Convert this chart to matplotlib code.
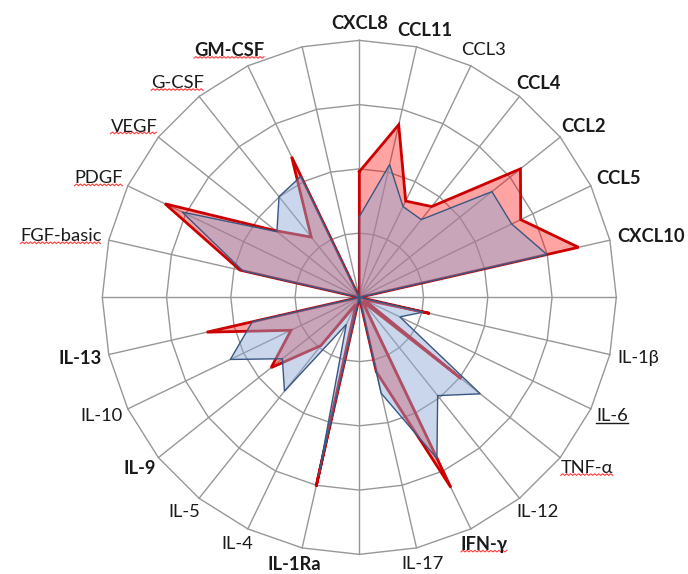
import numpy as np
import matplotlib
matplotlib.use("Agg")
import matplotlib.pyplot as plt
from matplotlib.lines import Line2D

# Spokes (blank entries are group separators)
categories = ["CXCL8", "CCL11", "CCL3", "CCL4", "CCL2", "CCL5", "CXCL10", "",
              "IL-1β", "IL-6", "TNF-α", "IL-12", "IFN-γ", "IL-17", "",
              "IL-1Ra", "IL-4", "IL-5", "IL-9", "IL-10", "IL-13", "",
              "FGF-basic", "PDGF", "VEGF", "G-CSF", "GM-CSF", ""]

bold_labels = ["CXCL8", "CCL11", "CCL4", "CCL2", "CCL5", "CXCL10",
               "IFN-γ", "IL-1Ra", "IL-9", "IL-13", "GM-CSF"]
underlined_labels = ["IL-6"]
flagged_labels = ["GM-CSF", "G-CSF", "VEGF", "PDGF", "FGF-basic", "TNF-α", "IFN-γ"]

series_red = [48.9, 68.9, 41.6, 45.2, 80.2, 69.7, 87.5, 0,
              28.1, 2.0, 50.7, 2.0, 82.2, 29.7, 0,
              75.5, 3.0, 24.0, 43.9, 29.5, 60.9, 0,
              47.6, 83.9, 41.6, 30.0, 60.7, 0]

series_blue = [31.4, 53.0, 39.2, 38.7, 66.0, 65.8, 74.9, 0,
               25.7, 17.5, 60.2, 48.9, 69.6, 38.3, 0,
               71.0, 11.7, 46.7, 38.3, 55.7, 42.7, 0,
               46.5, 76.5, 41.0, 50.1, 52.3, 0]

levels = [25, 50, 75, 100]

W, H = 688, 574
fig = plt.figure(figsize=(W / 100, H / 100), dpi=100)
ax = fig.add_axes([0.1487, 0.0342, 0.7471, 0.8955], projection="polar")
ax.set_theta_zero_location("N")
ax.set_theta_direction(-1)
ax.set_ylim(0, 100)
ax.axis("off")

n = len(categories)
theta = np.arange(n) * 2 * np.pi / n
theta_closed = np.append(theta, theta[0])

grid_kw = dict(color="#979797", lw=1.0, clip_on=False, zorder=1)
for lvl in levels:
    ax.plot(theta_closed, [lvl] * (n + 1), **grid_kw)
for t in theta:
    ax.plot([t, t], [0, levels[-1]], **grid_kw)

red_closed = np.append(series_red, series_red[0])
blue_closed = np.append(series_blue, series_blue[0])

ax.fill(theta_closed, red_closed, facecolor="#FF0000", alpha=0.36,
        edgecolor="none", zorder=2)
ax.plot(theta_closed, red_closed, color="#CC0000", lw=2.0, zorder=3,
        solid_joinstyle="miter")
ax.fill(theta_closed, blue_closed, facecolor="#8EA9D6", alpha=0.47,
        edgecolor="none", zorder=4)
ax.plot(theta_closed, blue_closed, color="#3A5683", lw=1.0, zorder=5,
        solid_joinstyle="miter")

# Category labels around the outer ring
fig.canvas.draw()
renderer = fig.canvas.get_renderer()
inv = fig.transFigure.inverted()
for t, lab in zip(theta, categories):
    if not lab:
        continue
    weight = "bold" if lab in bold_labels else "normal"
    txt = fig.text(0, 0, lab, ha="center", va="center", fontsize=13.2,
                   family=["Lato", "DejaVu Sans"], fontweight=weight,
                   color="#1A1A1A")
    bb = txt.get_window_extent(renderer)
    hw = bb.width / 2
    ex, ey = ax.transData.transform((t, levels[-1]))
    cx = ex + (hw + 8) * np.sin(t)
    cy = ey + 17 * np.cos(t)
    txt.set_position(inv.transform((cx, cy)))
    bb = txt.get_window_extent(renderer)
    if lab in flagged_labels:
        xs = np.arange(bb.x0, bb.x1 + 0.1, 2.0)
        ys = bb.y0 + 0.8 + np.where(np.arange(len(xs)) % 2 == 0, 0, 1.6)
        pts = inv.transform(np.column_stack([xs, ys]))
        fig.add_artist(Line2D(pts[:, 0], pts[:, 1], color="#FF3B3B", lw=0.8,
                              transform=fig.transFigure))
    if lab in underlined_labels:
        pts = inv.transform([(bb.x0, bb.y0 + 1.5), (bb.x1, bb.y0 + 1.5)])
        fig.add_artist(Line2D(pts[:, 0], pts[:, 1], color="#1A1A1A", lw=1.0,
                              transform=fig.transFigure))

fig.savefig("out.png", dpi=100, facecolor="white")
